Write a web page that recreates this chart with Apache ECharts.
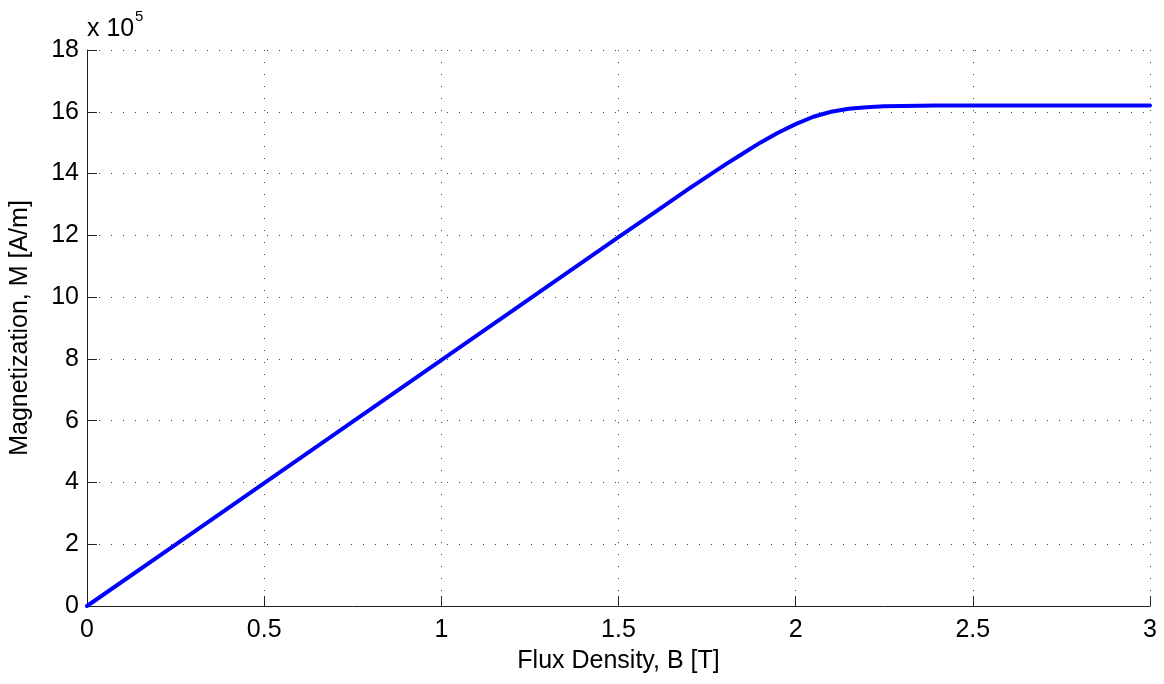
<!DOCTYPE html>
<html>
<head>
<meta charset="utf-8">
<script src="https://cdn.jsdelivr.net/npm/echarts@6/dist/echarts.min.js"></script>
<style>
  html, body { margin: 0; padding: 0; background: #fff; }
  #chart { width: 1164px; height: 684px; }
</style>
</head>
<body>
<div id="chart"></div>
<script>
// Flux density B [T]
const fluxDensity = [0, 0.25, 0.5, 0.75, 1.0, 1.25, 1.5, 1.6, 1.7, 1.75, 1.8, 1.85, 1.9, 1.95,
                     2.0, 2.05, 2.1, 2.15, 2.2, 2.25, 2.3, 2.4, 2.5, 2.75, 3.0];
// Magnetization M, in units of 1e5 A/m
const magnetization = [0, 1.99, 3.98, 5.97, 7.96, 9.95, 11.94, 12.73, 13.52, 13.9, 14.28, 14.64, 15.0, 15.32,
                       15.6, 15.84, 16.0, 16.1, 16.15, 16.18, 16.19, 16.2, 16.2, 16.2, 16.2];

const xTitle = 'Flux Density, B [T]';
const yTitle = 'Magnetization, M [A/m]';
const yScaleText = 'x 10';
const yExponent = '5';

const FONT = '"Liberation Sans", Arial, Helvetica, sans-serif';
const FS = 25;
const points = fluxDensity.map((b, i) => [b, magnetization[i]]);

const axisCommon = {
  axisLine: { show: true, lineStyle: { color: '#222', width: 1 } },
  axisTick: { show: true, inside: true, length: 10, lineStyle: { color: '#222', width: 1 } },
  splitLine: { show: true, lineStyle: { color: '#444', width: 1, type: [1, 11] } },
  axisLabel: { color: '#000', fontSize: FS, fontFamily: FONT },
  nameTextStyle: { color: '#000', fontSize: FS, fontFamily: FONT }
};

const chart = echarts.init(document.getElementById('chart'), null, { renderer: 'canvas' });
chart.setOption({
  animation: false,
  backgroundColor: '#fff',
  grid: { left: 87, right: 14, top: 50, bottom: 78, containLabel: false },
  xAxis: Object.assign({}, axisCommon, {
    type: 'value', min: 0, max: 3, interval: 0.5,
    name: xTitle, nameLocation: 'middle', nameGap: 43,
    axisLabel: Object.assign({}, axisCommon.axisLabel, { margin: 12 })
  }),
  yAxis: Object.assign({}, axisCommon, {
    type: 'value', min: 0, max: 18, interval: 2,
    name: yTitle, nameLocation: 'middle', nameGap: 54, nameRotate: 90,
    axisLabel: Object.assign({}, axisCommon.axisLabel, { margin: 8 })
  }),
  graphic: [
    {
      type: 'text', x: 87, y: 29,
      style: { text: yScaleText, fontSize: FS, fontFamily: FONT, fill: '#000',
               align: 'left', verticalAlign: 'middle' }
    },
    {
      type: 'text', x: 135, y: 17,
      style: { text: yExponent, fontSize: 15, fontFamily: FONT, fill: '#000',
               align: 'left', verticalAlign: 'middle' }
    }
  ],
  series: [{
    type: 'line',
    data: points,
    showSymbol: false,
    smooth: false,
    lineStyle: { color: '#0000ff', width: 4, join: 'round', cap: 'round' },
    clip: true
  }]
});
</script>
</body>
</html>
